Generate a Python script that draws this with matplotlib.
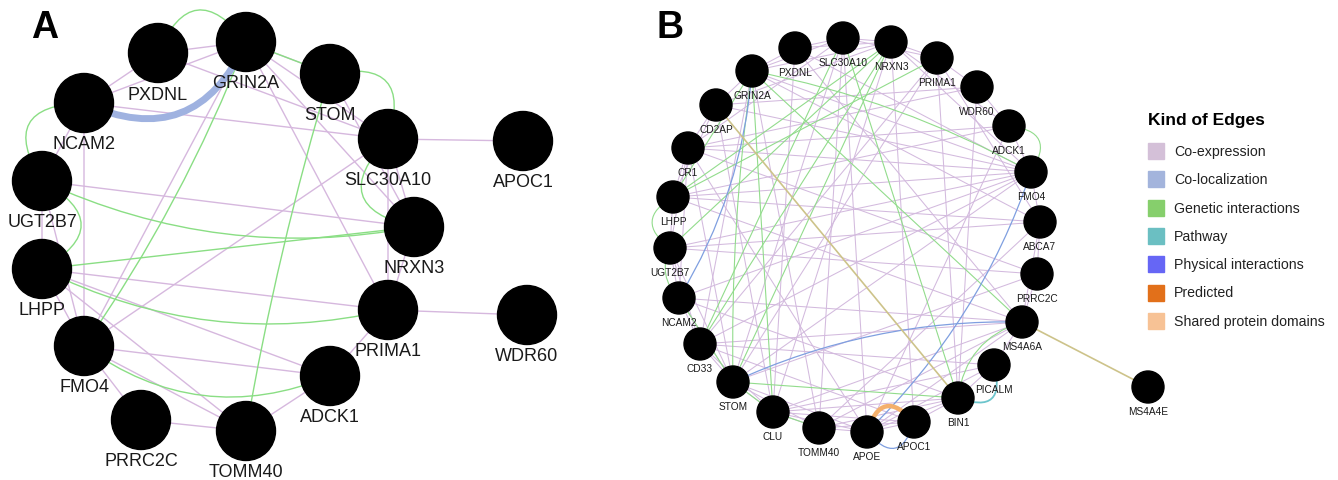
import numpy as np
import matplotlib
matplotlib.use('Agg')
import matplotlib.pyplot as plt
from matplotlib.patches import Circle, PathPatch, Rectangle
from matplotlib.path import Path

plt.rcParams['font.family'] = ['Liberation Sans', 'DejaVu Sans']

# Panel A: genes and their place in the drawing (pixels)
genesA = ['PXDNL', 'GRIN2A', 'STOM', 'NCAM2', 'SLC30A10', 'APOC1', 'UGT2B7', 'NRXN3',
          'LHPP', 'PRIMA1', 'WDR60', 'FMO4', 'ADCK1', 'PRRC2C', 'TOMM40']
xA = [158, 246, 330, 84, 388, 523, 42, 414, 42, 388, 527, 84, 330, 141, 246]
yA = [54, 43, 75, 104, 140, 142, 182, 228, 270, 311, 316, 347, 377, 421, 432]

# edges of A: (gene, gene, kind)
edgesA = [
    ('PXDNL', 'GRIN2A', 'coexp'), ('NCAM2', 'PXDNL', 'coexp'), ('NCAM2', 'GRIN2A', 'coexp'),
    ('PXDNL', 'SLC30A10', 'coexp'), ('GRIN2A', 'SLC30A10', 'coexp'), ('GRIN2A', 'NRXN3', 'coexp'),
    ('GRIN2A', 'PRIMA1', 'coexp'), ('NCAM2', 'SLC30A10', 'coexp'), ('SLC30A10', 'APOC1', 'coexp'),
    ('SLC30A10', 'FMO4', 'coexp'), ('GRIN2A', 'FMO4', 'coexp'), ('STOM', 'NRXN3', 'coexp'),
    ('SLC30A10', 'NRXN3', 'coexp'), ('SLC30A10', 'PRIMA1', 'coexp'), ('NRXN3', 'PRIMA1', 'coexp'),
    ('UGT2B7', 'NRXN3', 'coexp'), ('NCAM2', 'FMO4', 'coexp'), ('NCAM2', 'UGT2B7', 'coexp'),
    ('UGT2B7', 'LHPP', 'coexp'), ('LHPP', 'PRIMA1', 'coexp'), ('LHPP', 'ADCK1', 'coexp'),
    ('LHPP', 'TOMM40', 'coexp'), ('LHPP', 'FMO4', 'coexp'), ('UGT2B7', 'FMO4', 'coexp'),
    ('FMO4', 'ADCK1', 'coexp'), ('FMO4', 'TOMM40', 'coexp'), ('FMO4', 'PRRC2C', 'coexp'),
    ('PRRC2C', 'TOMM40', 'coexp'), ('TOMM40', 'ADCK1', 'coexp'), ('ADCK1', 'PRIMA1', 'coexp'),
    ('PRIMA1', 'WDR60', 'coexp'), ('GRIN2A', 'STOM', 'coexp'),
    ('PXDNL', 'GRIN2A', 'genetic'), ('STOM', 'SLC30A10', 'genetic'), ('NCAM2', 'UGT2B7', 'genetic'),
    ('UGT2B7', 'LHPP', 'genetic'), ('SLC30A10', 'NRXN3', 'genetic'), ('GRIN2A', 'STOM', 'genetic'),
    ('GRIN2A', 'FMO4', 'genetic'), ('STOM', 'TOMM40', 'genetic'), ('UGT2B7', 'NRXN3', 'genetic'),
    ('LHPP', 'NRXN3', 'genetic'), ('LHPP', 'PRIMA1', 'genetic'), ('FMO4', 'ADCK1', 'genetic'),
    ('NCAM2', 'GRIN2A', 'coloc'),
]
bendA = {
    ('PXDNL', 'GRIN2A', 'genetic'): -0.85, ('STOM', 'SLC30A10', 'genetic'): -0.85,
    ('NCAM2', 'UGT2B7', 'genetic'): 0.87, ('UGT2B7', 'LHPP', 'genetic'): -0.89,
    ('SLC30A10', 'NRXN3', 'genetic'): 0.88, ('GRIN2A', 'FMO4', 'genetic'): -0.06,
    ('STOM', 'TOMM40', 'genetic'): 0.03, ('UGT2B7', 'NRXN3', 'genetic'): 0.16,
    ('LHPP', 'PRIMA1', 'genetic'): 0.18, ('FMO4', 'ADCK1', 'genetic'): 0.28,
    ('NCAM2', 'GRIN2A', 'coloc'): 0.5,
}

# Panel B
genesB = ['PXDNL', 'SLC30A10', 'NRXN3', 'PRIMA1', 'WDR60', 'ADCK1', 'FMO4', 'ABCA7', 'PRRC2C',
          'MS4A6A', 'PICALM', 'BIN1', 'APOC1', 'APOE', 'TOMM40', 'CLU', 'STOM', 'CD33', 'NCAM2',
          'UGT2B7', 'LHPP', 'CR1', 'CD2AP', 'GRIN2A', 'MS4A4E']
xB = [795, 843, 891, 937, 977, 1009, 1031, 1040, 1037, 1022, 994, 958, 914, 867, 819, 773,
      733, 700, 679, 670, 673, 688, 716, 752, 1148]
yB = [49, 39, 43, 59, 88, 127, 173, 223, 275, 323, 366, 399, 423, 433, 429, 413, 383, 345,
      299, 249, 198, 149, 106, 72, 388]

coexpB = [
    ('PXDNL', 'SLC30A10'), ('PXDNL', 'GRIN2A'), ('PXDNL', 'NRXN3'), ('PXDNL', 'FMO4'), ('PXDNL', 'CLU'),
    ('PXDNL', 'MS4A6A'),
    ('SLC30A10', 'NRXN3'), ('SLC30A10', 'PRIMA1'), ('SLC30A10', 'APOE'), ('SLC30A10', 'TOMM40'),
    ('SLC30A10', 'CR1'), ('SLC30A10', 'STOM'),
    ('NRXN3', 'PRIMA1'), ('NRXN3', 'ADCK1'), ('NRXN3', 'FMO4'), ('NRXN3', 'CLU'), ('NRXN3', 'APOC1'),
    ('NRXN3', 'CD2AP'),
    ('PRIMA1', 'WDR60'), ('PRIMA1', 'BIN1'), ('PRIMA1', 'CD33'), ('PRIMA1', 'STOM'), ('PRIMA1', 'ABCA7'),
    ('WDR60', 'BIN1'), ('WDR60', 'ADCK1'), ('WDR60', 'CR1'),
    ('ADCK1', 'FMO4'), ('ADCK1', 'LHPP'), ('ADCK1', 'APOE'),
    ('FMO4', 'LHPP'), ('FMO4', 'CR1'), ('FMO4', 'UGT2B7'), ('FMO4', 'NCAM2'), ('FMO4', 'CD2AP'),
    ('FMO4', 'ABCA7'), ('FMO4', 'STOM'), ('FMO4', 'CD33'), ('FMO4', 'GRIN2A'),
    ('ABCA7', 'PRRC2C'), ('ABCA7', 'LHPP'), ('ABCA7', 'UGT2B7'), ('ABCA7', 'TOMM40'),
    ('ABCA7', 'MS4A6A'),
    ('PRRC2C', 'MS4A6A'), ('PRRC2C', 'STOM'), ('PRRC2C', 'CR1'),
    ('MS4A6A', 'CD33'), ('MS4A6A', 'CLU'), ('MS4A6A', 'APOE'), ('MS4A6A', 'PICALM'), ('MS4A6A', 'TOMM40'),
    ('MS4A6A', 'NCAM2'),
    ('PICALM', 'BIN1'), ('PICALM', 'APOE'), ('PICALM', 'CD33'), ('PICALM', 'CLU'),
    ('BIN1', 'APOC1'), ('BIN1', 'APOE'), ('BIN1', 'CLU'), ('BIN1', 'TOMM40'), ('BIN1', 'NCAM2'),
    ('APOC1', 'APOE'), ('APOC1', 'TOMM40'), ('APOC1', 'CLU'), ('APOC1', 'CD33'),
    ('APOE', 'TOMM40'), ('APOE', 'CLU'), ('APOE', 'STOM'), ('APOE', 'CR1'),
    ('TOMM40', 'CLU'), ('TOMM40', 'STOM'), ('TOMM40', 'GRIN2A'),
    ('CLU', 'STOM'), ('CLU', 'CD33'), ('CLU', 'CD2AP'),
    ('STOM', 'CD33'), ('STOM', 'NCAM2'), ('STOM', 'UGT2B7'), ('STOM', 'CR1'),
    ('CD33', 'NCAM2'), ('CD33', 'UGT2B7'), ('CD33', 'GRIN2A'),
    ('NCAM2', 'UGT2B7'), ('NCAM2', 'CR1'),
    ('UGT2B7', 'LHPP'), ('UGT2B7', 'CR1'), ('UGT2B7', 'PRRC2C'),
    ('LHPP', 'CR1'), ('LHPP', 'CD2AP'), ('LHPP', 'MS4A6A'),
    ('CR1', 'CD2AP'), ('CR1', 'ADCK1'),
    ('CD2AP', 'GRIN2A'), ('CD2AP', 'WDR60'),
    ('GRIN2A', 'SLC30A10'), ('GRIN2A', 'NRXN3'), ('GRIN2A', 'ABCA7'),
]
otherB = [
    ('GRIN2A', 'FMO4', 'genetic'), ('GRIN2A', 'MS4A6A', 'genetic'), ('GRIN2A', 'STOM', 'genetic'),
    ('GRIN2A', 'CLU', 'genetic'), ('GRIN2A', 'LHPP', 'genetic'), ('NRXN3', 'LHPP', 'genetic'),
    ('NRXN3', 'UGT2B7', 'genetic'), ('SLC30A10', 'CD33', 'genetic'), ('NRXN3', 'CD33', 'genetic'),
    ('NRXN3', 'STOM', 'genetic'), ('SLC30A10', 'BIN1', 'genetic'), ('PRIMA1', 'LHPP', 'genetic'),
    ('STOM', 'BIN1', 'genetic'), ('STOM', 'CLU', 'genetic'), ('CLU', 'TOMM40', 'genetic'),
    ('NCAM2', 'UGT2B7', 'genetic'), ('NCAM2', 'STOM', 'genetic'), ('LHPP', 'UGT2B7', 'genetic'),
    ('ADCK1', 'FMO4', 'genetic'), ('MS4A6A', 'BIN1', 'genetic'),
    ('GRIN2A', 'NCAM2', 'coloc'), ('STOM', 'MS4A6A', 'coloc'), ('APOE', 'FMO4', 'coloc'),
    ('APOE', 'APOC1', 'coloc'),
    ('BIN1', 'PICALM', 'pathway'),
    ('CD2AP', 'BIN1', 'domain2'), ('MS4A6A', 'MS4A4E', 'domain2'),
    ('APOE', 'APOC1', 'domain'),
]
bendB = {
    ('GRIN2A', 'FMO4', 'genetic'): -0.08, ('GRIN2A', 'STOM', 'genetic'): 0.04,
    ('NCAM2', 'UGT2B7', 'genetic'): -0.35, ('LHPP', 'UGT2B7', 'genetic'): 0.76,
    ('ADCK1', 'FMO4', 'genetic'): -0.82, ('MS4A6A', 'BIN1', 'genetic'): 0.32,
    ('GRIN2A', 'NCAM2', 'coloc'): -0.12, ('STOM', 'MS4A6A', 'coloc'): -0.115,
    ('APOE', 'FMO4', 'coloc'): 0.12, ('APOE', 'APOC1', 'coloc'): 0.9,
    ('BIN1', 'PICALM', 'pathway'): 0.95, ('APOE', 'APOC1', 'domain'): -0.88,
}

legend_labels = ['Co-expression', 'Co-localization', 'Genetic interactions', 'Pathway',
                 'Physical interactions', 'Predicted', 'Shared protein domains']
legend_colors = ['#d4c0d8', '#a3b4dc', '#86cf6c', '#6bbfc2', '#6666f5', '#e2701a', '#f7c295']

colA = {'coexp': '#d6b8de', 'genetic': '#8ade84', 'coloc': '#9fb2e0'}
lwA = {'coexp': 1.0, 'genetic': 1.0, 'coloc': 5.0}
colB = {'coexp': '#d3bade', 'genetic': '#92dc8c', 'coloc': '#7f9fe0', 'pathway': '#6cc5cc',
        'domain': '#f4b06c', 'domain2': '#cdc38a'}
lwB = {'coexp': 0.75, 'genetic': 0.8, 'coloc': 0.9, 'pathway': 1.3, 'domain': 3.2, 'domain2': 1.2}


def draw_edge(ax, p, q, bend, color, lw):
    p = np.array(p, float)
    q = np.array(q, float)
    d = q - p
    ctrl = (p + q) / 2 + bend * np.array([-d[1], d[0]])
    path = Path([p, ctrl, q], [Path.MOVETO, Path.CURVE3, Path.CURVE3])
    ax.add_patch(PathPatch(path, fc='none', ec=color, lw=lw, capstyle='round', zorder=1))


fig = plt.figure(figsize=(13.38, 4.81), dpi=100)
ax = fig.add_axes([0, 0, 1, 1])
ax.set_xlim(0, 1338)
ax.set_ylim(481, 0)
ax.set_aspect('equal')
ax.axis('off')

# --- panel A
posA = {g: (x, y) for g, x, y in zip(genesA, xA, yA)}
order = {'coexp': 0, 'genetic': 1, 'coloc': 2}
for a, b, k in sorted(edgesA, key=lambda e: order[e[2]]):
    draw_edge(ax, posA[a], posA[b], bendA.get((a, b, k), 0.0), colA[k], lwA[k])
for g in genesA:
    x, y = posA[g]
    ax.add_patch(Circle((x, y), 29.5, color='black', zorder=3))
    ax.text(x, y + 41, g, ha='center', va='center', fontsize=13, color='#1a1a1a', zorder=4)
ax.text(45, 28, 'A', ha='center', va='center', fontsize=27, fontweight='bold', zorder=4)

# --- panel B
posB = {g: (x, y) for g, x, y in zip(genesB, xB, yB)}
for a, b in coexpB:
    draw_edge(ax, posB[a], posB[b], 0.0, colB['coexp'], lwB['coexp'])
for a, b, k in otherB:
    draw_edge(ax, posB[a], posB[b], bendB.get((a, b, k), 0.0), colB[k], lwB[k])
for g in genesB:
    x, y = posB[g]
    ax.add_patch(Circle((x, y), 16, color='black', zorder=3))
    ax.text(x, y + 24, g, ha='center', va='center', fontsize=7.3, color='#1a1a1a', zorder=4)
ax.text(670, 28, 'B', ha='center', va='center', fontsize=27, fontweight='bold', zorder=4)

# --- legend
ax.text(1148, 121, 'Kind of Edges', ha='left', va='center', fontsize=12.5, fontweight='bold')
for i, (lab, c) in enumerate(zip(legend_labels, legend_colors)):
    yy = 152 + i * 28.3
    ax.add_patch(Rectangle((1148, yy - 8), 16, 16, color=c, zorder=3))
    ax.text(1174, yy, lab, ha='left', va='center', fontsize=10.2, color='#222222')

plt.savefig('out.png', dpi=100)
